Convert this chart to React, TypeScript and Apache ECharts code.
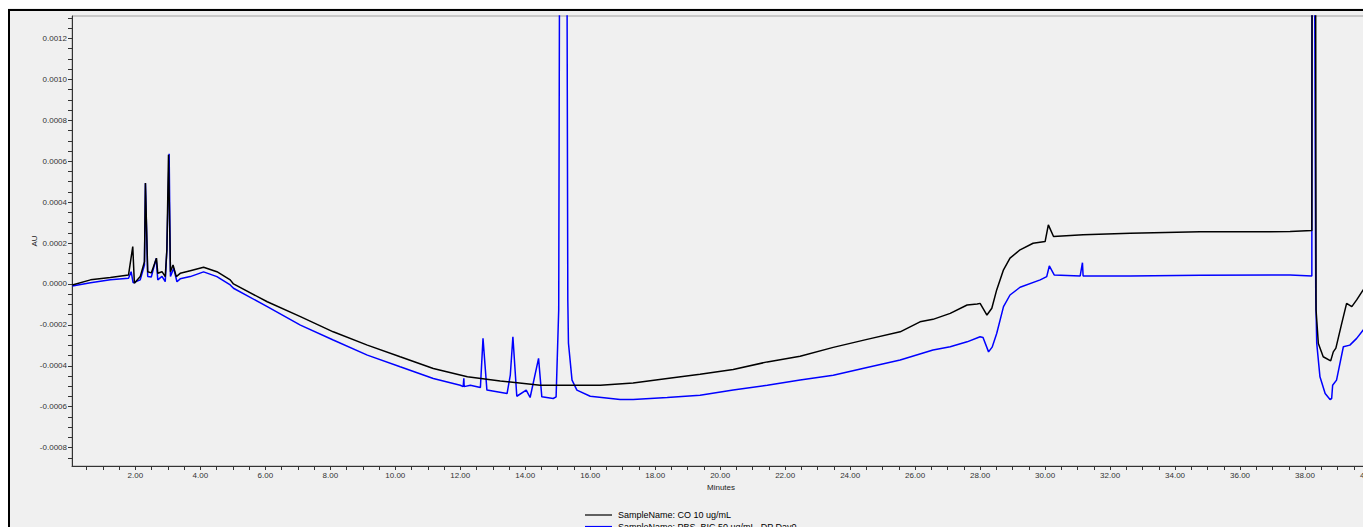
import React, { useEffect, useRef } from "react";
import * as echarts from "echarts";

const seriesNames = ["SampleName: CO 10 ug/mL", "SampleName: PBS_BIC 50 ug/mL -DP Day0"];
const seriesColors = ["#000000", "#0000ff"];

// [minutes, AU], black trace
const coPoints: [number, number][] = [
  [0.06, -0.000005], [0.62, 0.00002], [1.23, 0.000031], [1.79, 0.000044], [1.92, 0.000183],
  [1.97, 0.000003], [2.15, 0.000036], [2.28, 0.000109], [2.31, 0.000493], [2.38, 0.00006],
  [2.49, 0.000054], [2.65, 0.000126], [2.69, 0.000052], [2.82, 0.00006], [2.92, 0.000036],
  [2.97, 0.000167], [3.02, 0.000632], [3.08, 0.00006], [3.16, 0.000093], [3.26, 0.000036],
  [3.38, 0.000052], [3.69, 0.000065], [4.1, 0.000082], [4.51, 0.00006], [4.92, 0.00002],
  [5.02, 0.0], [6.06, -0.000087], [7.08, -0.00016], [8.09, -0.000234], [9.14, -0.000299],
  [10.15, -0.000356], [11.17, -0.000413], [12.22, -0.000454], [13.23, -0.000474], [14.46, -0.000495],
  [15.48, -0.000495], [16.31, -0.000495], [17.32, -0.000484], [18.37, -0.000462], [19.38, -0.000441],
  [20.4, -0.000418], [21.45, -0.000381], [22.46, -0.000353], [23.48, -0.00031], [24.52, -0.000271],
  [25.54, -0.000234], [26.15, -0.000185], [26.55, -0.000173], [27.08, -0.000144], [27.6, -0.000103],
  [27.91, -0.000098], [28.0, -0.000095], [28.21, -0.000152], [28.36, -0.000119], [28.51, -0.000029],
  [28.72, 0.000069], [28.92, 0.000126], [29.23, 0.000167], [29.63, 0.000199], [30.0, 0.000207],
  [30.1, 0.000289], [30.26, 0.000232], [31.17, 0.00024], [32.62, 0.000248], [34.77, 0.000255],
  [37.54, 0.000256], [38.21, 0.000261], [38.24, 0.006], [38.29, 0.006], [38.34, -0.000127],
  [38.41, -0.000291], [38.56, -0.000356], [38.79, -0.000376], [38.87, -0.000332], [38.95, -0.000314],
  [39.13, -0.000193], [39.28, -0.000095], [39.44, -0.000111], [39.59, -0.000078], [39.79, -0.000029],
  [40.03, -0.000005],
];

// [minutes, AU], blue trace
const pbsPoints: [number, number][] = [
  [0.06, -0.00001], [0.62, 0.000006], [1.23, 0.00002], [1.79, 0.000028], [1.87, 0.00006],
  [1.93, 0.000006], [2.15, 0.00002], [2.28, 0.000093], [2.31, 0.000492], [2.38, 0.000036],
  [2.49, 0.000034], [2.64, 0.000125], [2.69, 0.00002], [2.82, 0.000037], [2.92, 0.000011],
  [2.97, 0.000167], [3.04, 0.000637], [3.08, 0.000036], [3.18, 0.000077], [3.28, 0.000011],
  [3.38, 0.000025], [3.69, 0.000036], [4.1, 0.000059], [4.51, 0.000036], [4.92, -0.000005],
  [5.02, -0.000021], [6.06, -0.000111], [7.08, -0.000201], [8.09, -0.000274], [9.14, -0.000348],
  [10.15, -0.000405], [11.17, -0.000462], [12.0, -0.000495], [12.09, -0.000502], [12.11, -0.000461],
  [12.12, -0.000502], [12.31, -0.000495], [12.62, -0.000506], [12.7, -0.000266], [12.82, -0.000519],
  [13.44, -0.000536], [13.54, -0.000446], [13.62, -0.000258], [13.74, -0.000549], [14.03, -0.000519],
  [14.15, -0.000555], [14.41, -0.000364], [14.51, -0.000552], [14.86, -0.00056], [14.95, -0.000552],
  [15.03, -0.000127], [15.07, 0.0025], [15.12, 0.006], [15.22, 0.006], [15.27, 0.0025],
  [15.31, -0.000078], [15.33, -0.000289], [15.44, -0.00047], [15.59, -0.000519], [16.0, -0.000549],
  [16.92, -0.000565], [17.32, -0.000565], [18.37, -0.000555], [19.38, -0.000544], [20.4, -0.000519],
  [21.45, -0.000495], [22.46, -0.00047], [23.48, -0.000446], [24.52, -0.000408], [25.54, -0.000372],
  [26.55, -0.000323], [27.08, -0.000307], [27.6, -0.000283], [28.0, -0.000258], [28.09, -0.000262],
  [28.26, -0.000332], [28.37, -0.000309], [28.51, -0.000242], [28.72, -0.000111], [28.92, -0.000054],
  [29.23, -0.000016], [29.85, 0.00002], [30.05, 0.000036], [30.13, 0.000088], [30.28, 0.000044],
  [31.08, 0.000039], [31.15, 0.000104], [31.17, 0.000039], [32.62, 0.000039], [34.77, 0.000042],
  [37.54, 0.000044], [38.21, 0.000039], [38.24, 0.006], [38.27, 0.006], [38.3, 0.0013],
  [38.33, -0.00005], [38.36, -0.000289], [38.46, -0.000454], [38.62, -0.000536], [38.77, -0.000565],
  [38.82, -0.00056], [38.85, -0.000495], [38.97, -0.00047], [39.18, -0.000307], [39.38, -0.000299],
  [39.59, -0.000266], [40.03, -0.000176],
];

const xLabelValues = [2, 4, 6, 8, 10, 12, 14, 16, 18, 20, 22, 24, 26, 28, 30, 32, 34, 36, 38, 40];
const yLabelValues = [-0.0008, -0.0006, -0.0004, -0.0002, 0, 0.0002, 0.0004, 0.0006, 0.0008, 0.001, 0.0012];

const xMin = 0.05;
const xMax = 40.0;
const yMin = -0.00089;
const yMax = 0.00131;

export default function App() {
  const ref = useRef<HTMLDivElement>(null);
  useEffect(() => {
    if (!ref.current) return;
    document.documentElement.style.overflow = "hidden";
    document.body.style.overflow = "hidden";
    const chart = echarts.init(ref.current, null, { renderer: "svg" });
    const xTicks: number[] = [];
    for (let k = 1; k <= 80; k++) xTicks.push(k * 0.5);
    const yTicks: number[] = [];
    for (let k = -17; k <= 26; k++) yTicks.push(Math.round(k * 5) / 100000);
    const font = "Liberation Sans, Arial, sans-serif";
    const legendGraphics: any[] = [];
    seriesNames.forEach((name, i) => {
      const cy = 507 + i * 11.5;
      legendGraphics.push({
        type: "line",
        shape: { x1: 577, y1: cy, x2: 604, y2: cy },
        style: { stroke: seriesColors[i], lineWidth: 1.2 },
        silent: true,
      });
      legendGraphics.push({
        type: "text",
        x: 610,
        y: cy,
        style: {
          text: name,
          fill: "#000",
          font: `9px ${font}`,
          verticalAlign: "middle",
          align: "left",
        },
        silent: true,
      });
    });
    chart.setOption({
      animation: false,
      backgroundColor: "#f0f0f0",
      graphic: [
        {
          type: "rect",
          shape: { x: 1, y: 2, width: 3000, height: 3000 },
          style: { fill: "none", stroke: "#000", lineWidth: 2 },
          silent: true,
        },
        ...legendGraphics,
      ],
      grid: {
        left: 64,
        top: 8,
        right: 1,
        bottom: 61,
        outerBoundsMode: "none",
        containLabel: false,
        show: true,
        backgroundColor: "#f0f0f0",
        borderColor: "#a0a0a0",
        borderWidth: 1,
      },
      xAxis: {
        type: "value",
        min: xMin,
        max: xMax,
        name: "Minutes",
        nameLocation: "middle",
        nameGap: 17,
        nameMoveOverlap: false,
        nameTextStyle: { fontSize: 8, color: "#222", fontFamily: font },
        axisLine: { show: true, onZero: false, lineStyle: { color: "#333", width: 1 } },
        axisTick: { show: true, length: 4, customValues: xTicks, lineStyle: { color: "#333" } },
        axisLabel: {
          customValues: xLabelValues,
          formatter: (v: number) => v.toFixed(2),
          fontSize: 8,
          color: "#333",
          fontFamily: font,
          margin: 5,
        },
        splitLine: { show: false },
      },
      yAxis: {
        type: "value",
        min: yMin,
        max: yMax,
        name: "AU",
        nameLocation: "middle",
        nameGap: 34,
        nameMoveOverlap: false,
        nameTextStyle: { fontSize: 8, color: "#222", fontFamily: font },
        axisLine: { show: true, onZero: false, lineStyle: { color: "#333", width: 1 } },
        axisTick: { show: true, length: 4, customValues: yTicks, lineStyle: { color: "#333" } },
        axisLabel: {
          customValues: yLabelValues,
          formatter: (v: number) => v.toFixed(4),
          fontSize: 8,
          color: "#333",
          fontFamily: font,
          margin: 5,
        },
        splitLine: { show: false },
      },
      series: [
        {
          name: seriesNames[1],
          type: "line",
          data: pbsPoints,
          symbol: "none",
          clip: true,
          lineStyle: { color: seriesColors[1], width: 1.5 },
          itemStyle: { color: seriesColors[1] },
        },
        {
          name: seriesNames[0],
          type: "line",
          data: coPoints,
          symbol: "none",
          clip: true,
          lineStyle: { color: seriesColors[0], width: 1.5 },
          itemStyle: { color: seriesColors[0] },
        },
      ],
    });
    return () => chart.dispose();
  }, []);
  return <div ref={ref} style={{ width: 1363, height: 519 }} />;
}
